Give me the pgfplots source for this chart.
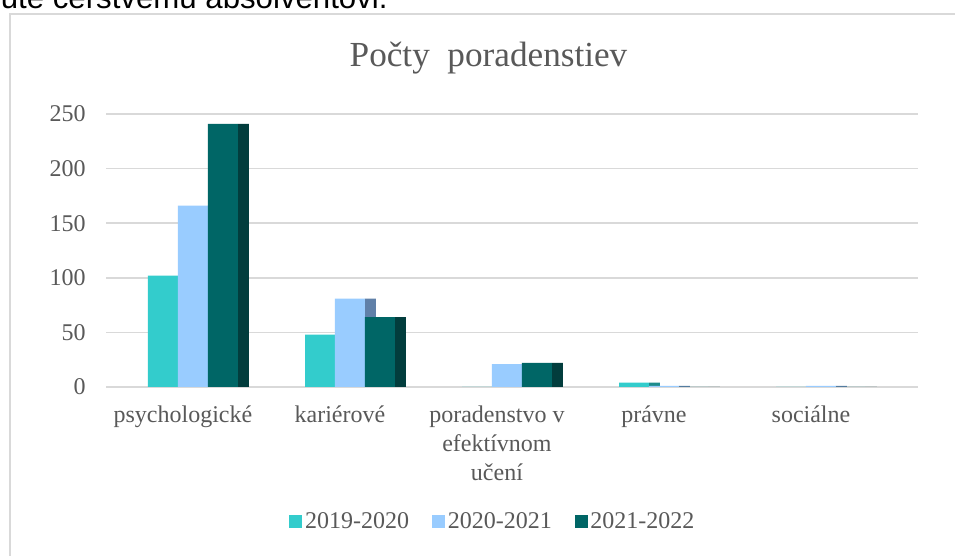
\documentclass[border=0pt]{standalone}
\usepackage{pgfplots}
\pgfplotsset{compat=1.18}
\usepackage{fontspec}
\setmainfont{Liberation Serif}
\newfontfamily\arial{Liberation Sans}

\definecolor{tyrkys}{HTML}{33CCCC}
\definecolor{tyrkysside}{HTML}{1E8C8C}
\definecolor{svetlomodra}{HTML}{99CCFF}
\definecolor{svetlomodraside}{HTML}{6080A8}
\definecolor{tmava}{HTML}{006666}
\definecolor{tmavaside}{HTML}{023D3D}
\definecolor{labelgray}{HTML}{595959}
\definecolor{gridgray}{HTML}{D9D9D9}

\begin{document}
\begin{tikzpicture}
\useasboundingbox (0,0) rectangle (477.5pt,278pt);
\fill[white] (0,0) rectangle (477.5pt,278pt);
% cut-off line of the surrounding document
\node[anchor=base east, inner sep=0pt, font=\arial\fontsize{15.6}{18}\selectfont]
  at (194pt,273.5pt) {ute čerstvému absolventovi.};
% chart frame
\draw[gridgray, line width=1pt] (5pt,-5pt) -- (5pt,271pt) -- (490pt,271pt);
\node[anchor=base, inner sep=0pt, text=labelgray, font=\fontsize{17.6}{21}\selectfont]
  at (244.25pt,244.5pt) {Počty\ \ poradenstiev};

\begin{axis}[
    at={(53pt,84.5pt)}, anchor=south west,
    scale only axis, width=406pt, height=136.5pt,
    ybar, bar width=0.191,
    xmin=-0.554, xmax=4.618,
    ymin=0, ymax=250,
    axis line style={draw=none},
    major tick length=0pt,
    ytick={0,50,100,150,200,250},
    ymajorgrids, grid style={gridgray, line width=0.75pt},
    xtick={0,1,2,3,4},
    xticklabels={psychologické, kariérové, {poradenstvo v\\efektívnom\\učení}, právne, sociálne},
    xticklabel style={anchor=north, inner sep=0pt, yshift=-9pt, xshift=-5pt,
        align=center, font=\fontsize{12}{14.5}\selectfont, text=labelgray},
    yticklabel style={anchor=east, inner sep=0pt, xshift=-10pt,
        font=\fontsize{12}{14.5}\selectfont, text=labelgray},
    /pgf/number format/assume math mode=true,
    legend columns=3,
    legend image code/.code={\fill[#1] (0pt,-3.25pt) rectangle (6.5pt,3.25pt);},
    legend style={at={(0.477,-0.4945)}, anchor=center, draw=none, fill=none,
        font=\fontsize{12}{14.5}\selectfont, text=labelgray,
        nodes={inner sep=1.4pt},
        /tikz/every even column/.append style={column sep=10pt}},
]
% side faces
\addplot[forget plot, draw=none, fill=tyrkysside, bar width=0.070, bar shift=-0.0604]
    coordinates {(0,102) (1,48) (2,0) (3,4) (4,0)};
\addplot[forget plot, draw=none, fill=svetlomodraside, bar width=0.070, bar shift=0.1306]
    coordinates {(0,166) (1,81) (2,21) (3,1) (4,1)};
\addplot[forget plot, draw=none, fill=tmavaside, bar width=0.070, bar shift=0.3216]
    coordinates {(0,241) (1,64) (2,22) (3,0) (4,0)};
% front faces
\addplot[draw=none, fill=tyrkys, bar shift=-0.191]
    coordinates {(0,102) (1,48) (2,0) (3,4) (4,0)};
\addplot[draw=none, fill=svetlomodra, bar shift=0]
    coordinates {(0,166) (1,81) (2,21) (3,1) (4,1)};
\addplot[draw=none, fill=tmava, bar shift=0.191]
    coordinates {(0,241) (1,64) (2,22) (3,0) (4,0)};
\legend{2019-2020, 2020-2021, 2021-2022}
\end{axis}
\end{tikzpicture}
\end{document}
